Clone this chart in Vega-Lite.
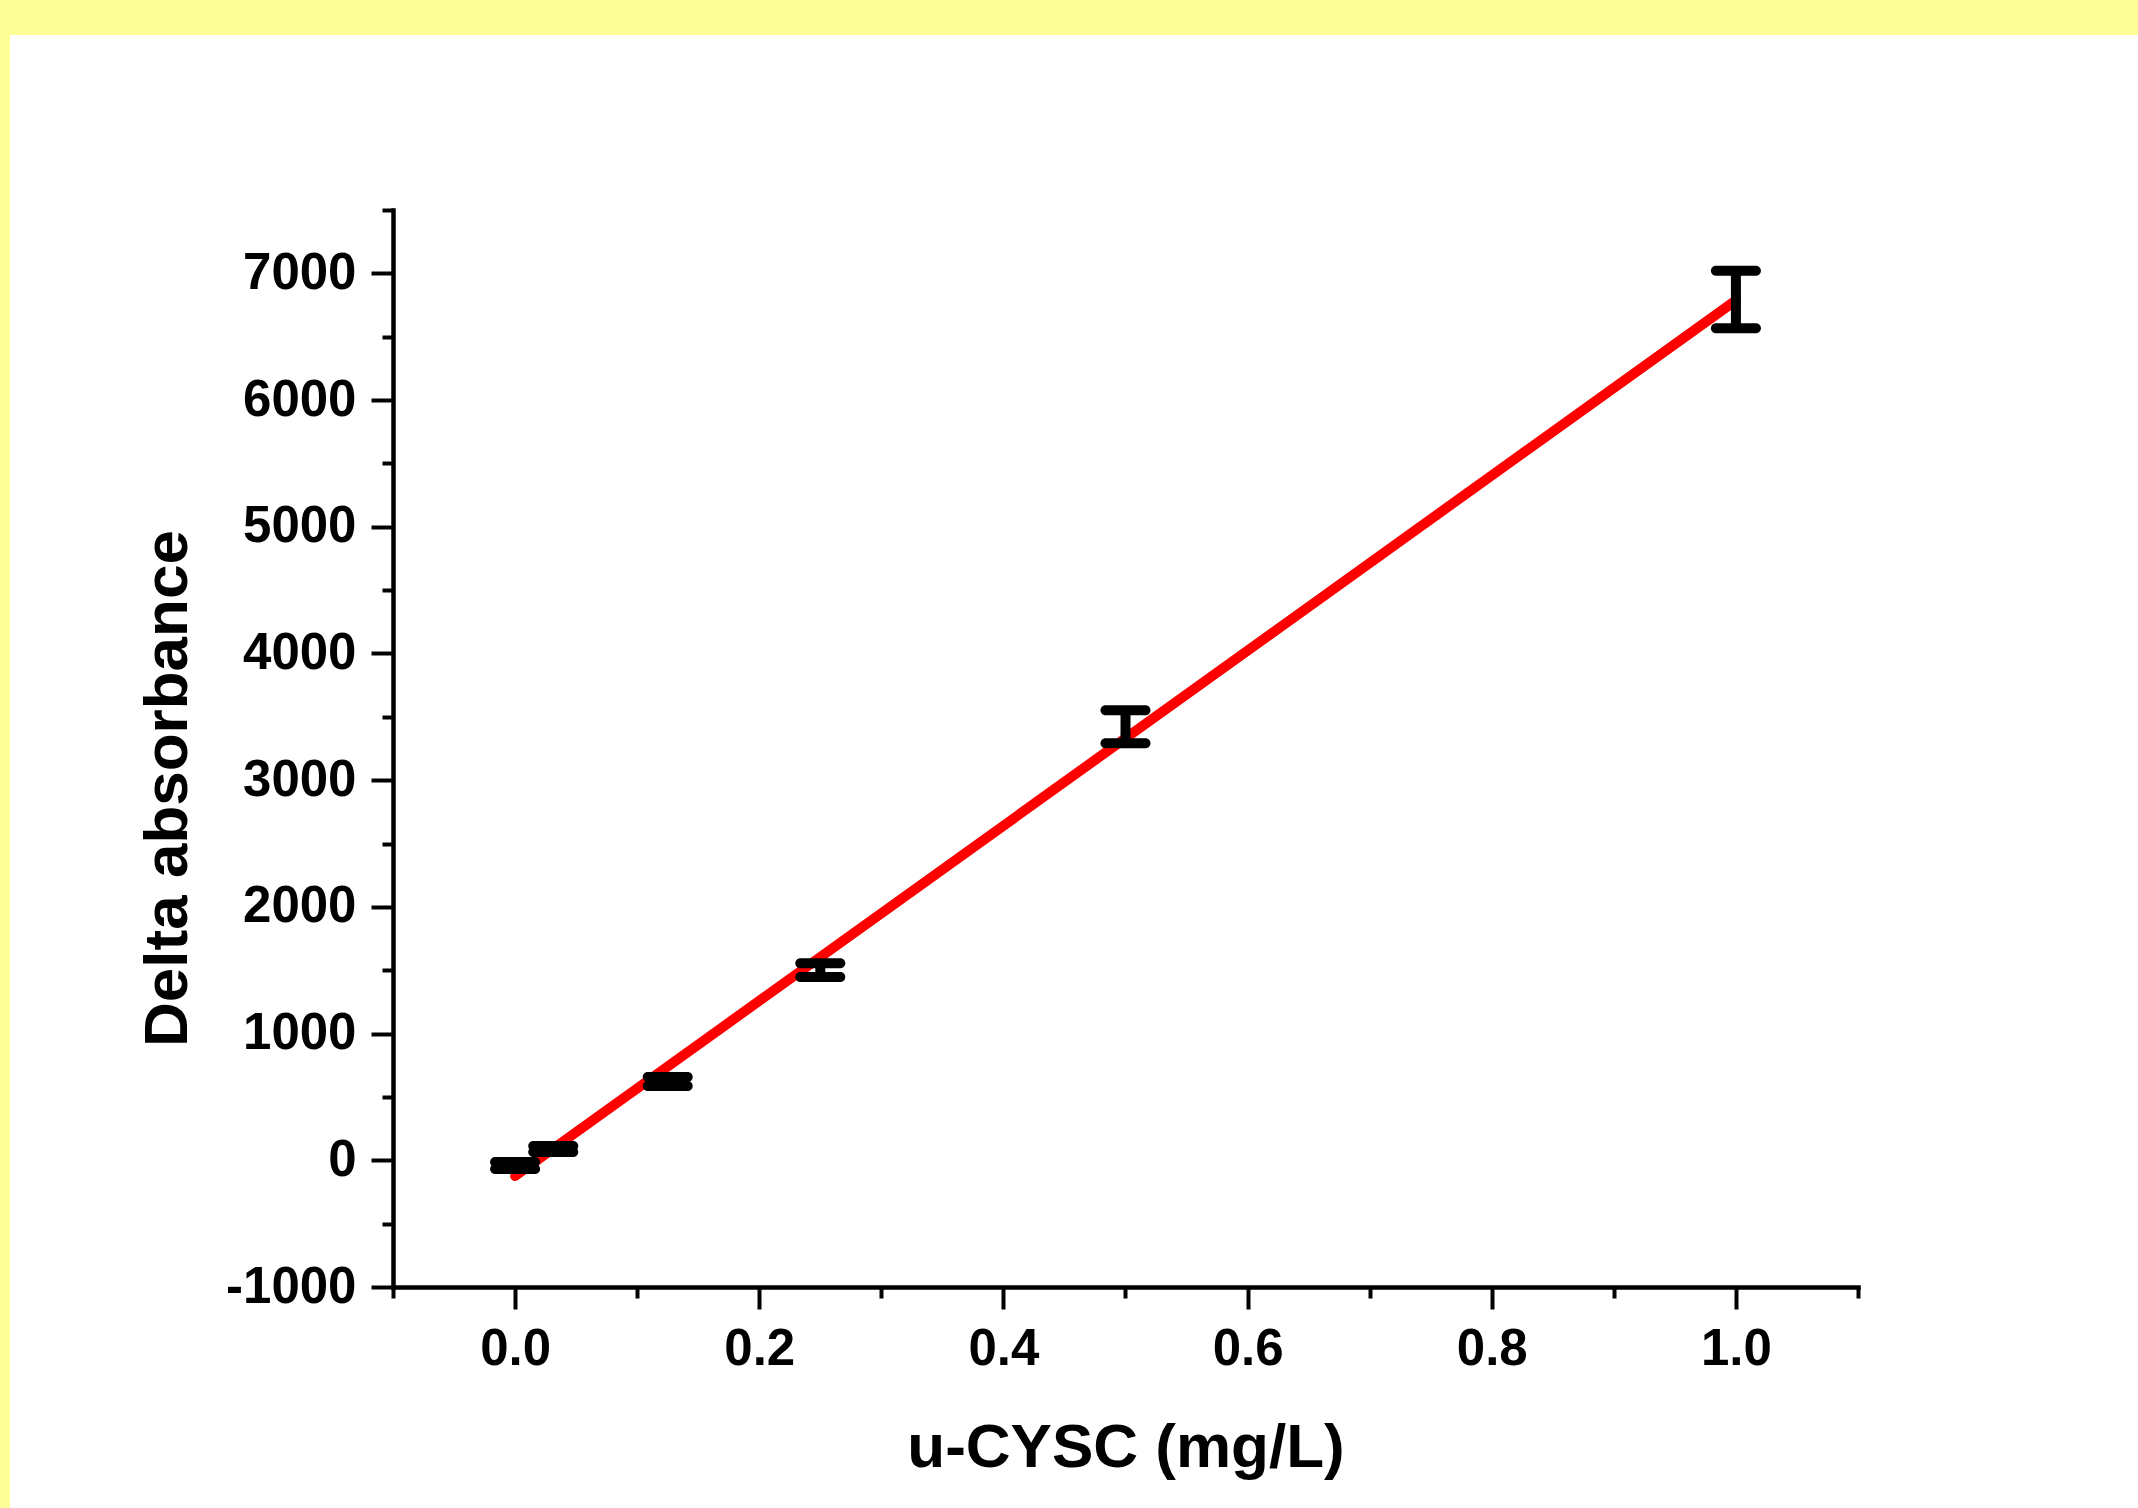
{
  "$schema": "https://vega.github.io/schema/vega-lite/v6.json",
  "background": "#FFFFFF",
  "padding": 0,
  "config": {
    "font": "Liberation Sans",
    "view": {"stroke": null},
    "axis": {
      "grid": false,
      "domainColor": "#000000",
      "domainWidth": 4.5,
      "domainCap": "square",
      "tickColor": "#000000",
      "tickWidth": 4,
      "labelFont": "Liberation Sans",
      "labelFontWeight": "bold",
      "labelFontSize": 51,
      "labelColor": "#000000",
      "labelFlush": false,
      "labelOverlap": false,
      "labelBound": false,
      "titleFont": "Liberation Sans",
      "titleFontWeight": "bold",
      "titleFontSize": 62,
      "titleColor": "#000000"
    }
  },
  "datasets": {
    "bars": [
      {"conc": 0, "lo": -69, "hi": -14},
      {"conc": 0.03125, "lo": 65, "hi": 112},
      {"conc": 0.125, "lo": 586, "hi": 657},
      {"conc": 0.25, "lo": 1446, "hi": 1556},
      {"conc": 0.5, "lo": 3292, "hi": 3552},
      {"conc": 1.0, "lo": 6566, "hi": 7020}
    ],
    "fit": [
      {"conc": 0, "delta": -124},
      {"conc": 1.0, "delta": 6787}
    ]
  },
  "vconcat": [
    {
      "width": 2138,
      "height": 35,
      "view": {"fill": "#FFFF99", "stroke": null},
      "data": {"values": []},
      "mark": "point"
    },
    {
      "hconcat": [
        {
          "width": 10,
          "height": 1473,
          "view": {"fill": "#FFFF99", "stroke": null},
          "data": {"values": []},
          "mark": "point"
        },
        {
          "vconcat": [
            {
              "width": 1465,
              "height": 175,
              "data": {"values": []},
              "mark": "point"
            },
            {
              "width": 1465,
              "height": 1077,
              "layer": [
                {
                  "data": {"name": "fit"},
                  "mark": {"type": "line", "color": "#FF0000", "strokeWidth": 10, "strokeCap": "round"},
                  "encoding": {
                    "x": {
                      "field": "conc", "type": "quantitative",
                      "scale": {"domain": [-0.1, 1.1], "nice": false, "zero": false},
                      "axis": {
                        "orient": "bottom",
                        "values": [0, 0.2, 0.4, 0.6, 0.8, 1.0],
                        "format": ".1f",
                        "tickSize": 22,
                        "labelPadding": 15,
                        "title": "u-CYSC (mg/L)",
                        "titlePadding": 43
                      }
                    },
                    "y": {
                      "field": "delta", "type": "quantitative",
                      "scale": {"domain": [-1000, 7500], "nice": false, "zero": false},
                      "axis": {
                        "orient": "left",
                        "values": [-1000, 0, 1000, 2000, 3000, 4000, 5000, 6000, 7000],
                        "labelExpr": "'' + datum.value",
                        "tickSize": 22,
                        "labelPadding": 15,
                        "title": "Delta absorbance",
                        "titlePadding": 26,
                        "titleY": 578
                      }
                    }
                  }
                },
                {
                  "data": {"name": "bars"},
                  "mark": {"type": "rule", "color": "#000000", "strokeWidth": 10},
                  "encoding": {
                    "x": {
                      "field": "conc", "type": "quantitative",
                      "axis": {
                        "orient": "bottom",
                        "values": [-0.1, 0.1, 0.3, 0.5, 0.7, 0.9, 1.1],
                        "tickSize": 11,
                        "labels": false,
                        "domain": false,
                        "title": null
                      }
                    },
                    "y": {
                      "field": "lo", "type": "quantitative",
                      "axis": {
                        "orient": "left",
                        "values": [-500, 500, 1500, 2500, 3500, 4500, 5500, 6500, 7500],
                        "tickSize": 11,
                        "labels": false,
                        "domain": false,
                        "title": null
                      }
                    },
                    "y2": {"field": "hi"}
                  }
                },
                {
                  "data": {"name": "bars"},
                  "mark": {"type": "tick", "orient": "horizontal", "color": "#000000", "size": 50, "thickness": 10, "cornerRadius": 5, "opacity": 1},
                  "encoding": {
                    "x": {"field": "conc", "type": "quantitative", "axis": null},
                    "y": {"field": "lo", "type": "quantitative", "axis": null}
                  }
                },
                {
                  "data": {"name": "bars"},
                  "mark": {"type": "tick", "orient": "horizontal", "color": "#000000", "size": 50, "thickness": 10, "cornerRadius": 5, "opacity": 1},
                  "encoding": {
                    "x": {"field": "conc", "type": "quantitative", "axis": null},
                    "y": {"field": "hi", "type": "quantitative", "axis": null}
                  }
                }
              ],
              "resolve": {"axis": {"x": "independent", "y": "independent"}}
            }
          ],
          "spacing": 0,
          "bounds": "flush"
        }
      ],
      "spacing": 383,
      "bounds": "flush"
    }
  ],
  "spacing": 0,
  "bounds": "flush"
}
